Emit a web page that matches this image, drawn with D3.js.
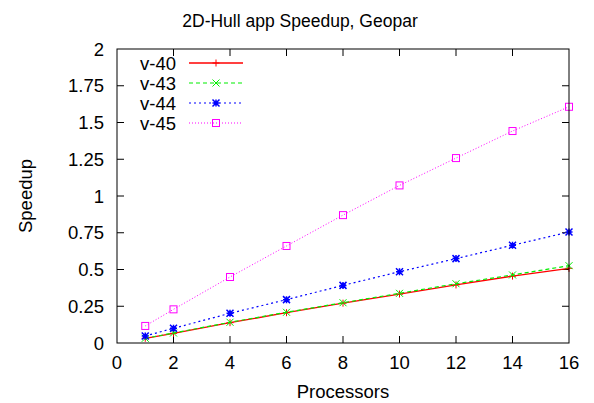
<!DOCTYPE html>
<html>
<head>
<meta charset="utf-8">
<script src="https://cdn.jsdelivr.net/npm/d3@7"></script>
<style>
body { margin: 0; background: #fff; }
text { font-family: "Liberation Sans", Arial, sans-serif; fill: #000; }
</style>
</head>
<body>
<script>
// processors on the x axis
var procs = [1, 2, 4, 6, 8, 10, 12, 14, 16];

// speedup per version
var v40 = [0.032, 0.066, 0.138, 0.206, 0.271, 0.333, 0.395, 0.455, 0.508];
var v43 = [0.032, 0.068, 0.141, 0.209, 0.274, 0.338, 0.403, 0.463, 0.526];
var v44 = [0.048, 0.100, 0.202, 0.295, 0.392, 0.485, 0.574, 0.665, 0.755];
var v45 = [0.116, 0.229, 0.449, 0.660, 0.870, 1.072, 1.258, 1.442, 1.607];

var seriesNames = ["v-40", "v-43", "v-44", "v-45"];
var xTicks = [0, 2, 4, 6, 8, 10, 12, 14, 16];
var yTicks = [0, 0.25, 0.5, 0.75, 1, 1.25, 1.5, 1.75, 2];

var width = 594, height = 403;
var pL = 117, pR = 569, pT = 49, pB = 343;
var fs = 18.5;

var svg = d3.select("body").append("svg")
  .attr("width", width)
  .attr("height", height);

var x = d3.scaleLinear().domain([0, 16]).range([pL, pR]);
var y = d3.scaleLinear().domain([0, 2]).range([pB, pT]);

// styles for each series, gnuplot-ish
var styles = [
  {color: "#ff0000", dash: null, mark: "plus", w: 1.3},
  {color: "#00ee00", dash: "4,3", mark: "cross", w: 1.2},
  {color: "#0000ff", dash: "2,3", mark: "star", w: 1.2},
  {color: "#ff00ff", dash: "1,2", mark: "square", w: 1}
];
var allData = [v40, v43, v44, v45];

// ticks (inward, mirrored)
var tl = 7;
var g = svg.append("g").attr("stroke", "#000").attr("stroke-width", 1);
xTicks.forEach(function(t) {
  if (t === 0 || t === 16) return;
  g.append("line").attr("x1", x(t)).attr("x2", x(t)).attr("y1", pB).attr("y2", pB - tl);
  g.append("line").attr("x1", x(t)).attr("x2", x(t)).attr("y1", pT).attr("y2", pT + tl);
});
yTicks.forEach(function(t) {
  if (t === 0 || t === 2) return;
  g.append("line").attr("x1", pL).attr("x2", pL + tl).attr("y1", y(t)).attr("y2", y(t));
  g.append("line").attr("x1", pR).attr("x2", pR - tl).attr("y1", y(t)).attr("y2", y(t));
});

// tick labels
svg.append("g").selectAll("text").data(xTicks).enter().append("text")
  .attr("x", d => x(d)).attr("y", 369)
  .attr("text-anchor", "middle").attr("font-size", fs)
  .text(d => d);
svg.append("g").selectAll("text").data(yTicks).enter().append("text")
  .attr("x", 104).attr("y", d => y(d) + 6.5)
  .attr("text-anchor", "end").attr("font-size", fs)
  .text(d => d);

// labels
svg.append("text").attr("x", 300).attr("y", 27).attr("text-anchor", "middle")
  .attr("font-size", 17.5).text("2D-Hull app Speedup, Geopar");
svg.append("text").attr("x", (pL + pR) / 2).attr("y", 398).attr("text-anchor", "middle")
  .attr("font-size", fs).text("Processors");
svg.append("text").attr("transform", "translate(32," + (pT + pB) / 2 + ") rotate(-90)")
  .attr("text-anchor", "middle").attr("font-size", fs).text("Speedup");

function drawMark(sel, kind, cx, cy, color) {
  var s = 3.5;
  if (kind === "plus") {
    sel.append("path").attr("d", "M" + (cx - s) + "," + cy + "H" + (cx + s) + "M" + cx + "," + (cy - s) + "V" + (cy + s))
      .attr("stroke", color).attr("fill", "none");
  } else if (kind === "cross") {
    sel.append("path").attr("d", "M" + (cx - s) + "," + (cy - s) + "L" + (cx + s) + "," + (cy + s) + "M" + (cx - s) + "," + (cy + s) + "L" + (cx + s) + "," + (cy - s))
      .attr("stroke", color).attr("fill", "none");
  } else if (kind === "star") {
    sel.append("path").attr("d", "M" + (cx - s) + "," + cy + "H" + (cx + s) + "M" + cx + "," + (cy - s) + "V" + (cy + s) +
      "M" + (cx - s) + "," + (cy - s) + "L" + (cx + s) + "," + (cy + s) + "M" + (cx - s) + "," + (cy + s) + "L" + (cx + s) + "," + (cy - s))
      .attr("stroke", color).attr("fill", "none").attr("stroke-width", 1.5);
  } else {
    sel.append("rect").attr("x", cx - s).attr("y", cy - s).attr("width", 2 * s).attr("height", 2 * s)
      .attr("stroke", color).attr("fill", "none");
  }
}

var line = d3.line().x((d, i) => x(procs[i])).y(d => y(d));

allData.forEach(function(vals, k) {
  var st = styles[k];
  var sg = svg.append("g");
  sg.append("path").datum(vals).attr("d", line)
    .attr("fill", "none").attr("stroke", st.color).attr("stroke-width", st.w)
    .attr("stroke-dasharray", st.dash);
  vals.forEach(function(v, i) { drawMark(sg, st.mark, x(procs[i]), y(v), st.color); });

  // legend
  var ly = 63 + k * 20;
  svg.append("text").attr("x", 176).attr("y", ly + 6.5).attr("text-anchor", "end")
    .attr("font-size", fs).text(seriesNames[k]);
  var lg = svg.append("g");
  lg.append("line").attr("x1", 189).attr("x2", 243).attr("y1", ly).attr("y2", ly)
    .attr("stroke", st.color).attr("stroke-width", st.w).attr("stroke-dasharray", st.dash);
  drawMark(lg, st.mark, 216, ly, st.color);
});

// frame
svg.append("rect").attr("x", pL).attr("y", pT).attr("width", pR - pL).attr("height", pB - pT)
  .attr("fill", "none").attr("stroke", "#000").attr("stroke-width", 1);
</script>
</body>
</html>
